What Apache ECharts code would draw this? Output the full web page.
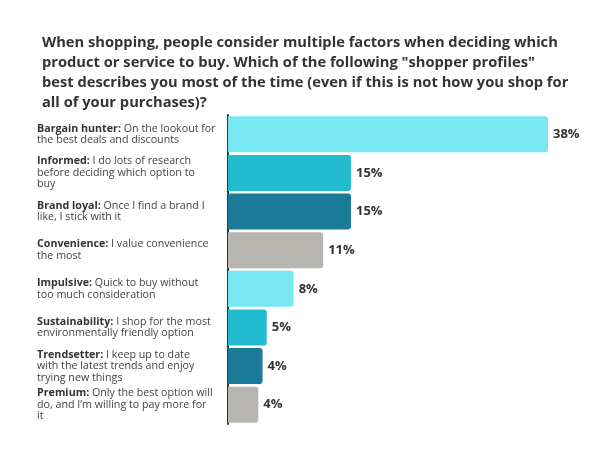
<!DOCTYPE html>
<html>
<head>
<meta charset="utf-8">
<script src="https://cdn.jsdelivr.net/npm/echarts@6/dist/echarts.min.js"></script>
<style>
  html, body { margin: 0; padding: 0; background: #fff; }
  #chart { width: 600px; height: 449px; }
</style>
</head>
<body>
<div id="chart"></div>
<script>
// Shopper profile chart
const titleText = 'When shopping, people consider multiple factors when deciding which\nproduct or service to buy. Which of the following "shopper profiles"\nbest describes you most of the time (even if this is not how you shop for\nall of your purchases)?';

const profileNames = ['Bargain hunter:', 'Informed:', 'Brand loyal:', 'Convenience:',
    'Impulsive:', 'Sustainability:', 'Trendsetter:', 'Premium:'];
const profileDescs = [
    ' On the lookout for\nthe best deals and discounts',
    ' I do lots of research\nbefore deciding which option to\nbuy',
    ' Once I find a brand I\nlike, I stick with it',
    ' I value convenience\nthe most',
    ' Quick to buy without\ntoo much consideration',
    ' I shop for the most\nenvironmentally friendly option',
    ' I keep up to date\nwith the latest trends and enjoy\ntrying new things',
    ' Only the best option will\ndo, and I\u2019m willing to pay more for\nit'
];
const shares = [38, 14.6, 14.6, 11.3, 7.8, 4.6, 4.1, 3.6];
const barColors = ['#77e7f1', '#22bacf', '#1a7a98', '#b8b6b1'];

const FONT = '"Open Sans", sans-serif';

const chart = echarts.init(document.getElementById('chart'), null, { renderer: 'canvas' });

// Bold name + regular description, every line of the description in the same style
const labelFor = (i) => {
    const lines = profileDescs[i].split('\n');
    return lines.map((l, k) => (k === 0 ? `{b|${profileNames[i]}}{r|${l}}` : `{r|${l}}`)).join('\n');
};

const option = {
    backgroundColor: '#fff',
    animation: false,
    title: {
        text: titleText,
        left: 37,
        top: 28,
        textStyle: {
            fontFamily: FONT,
            fontSize: 14.7,
            fontWeight: 'bold',
            lineHeight: 20,
            color: '#333'
        }
    },
    grid: {
        left: 228,
        right: 52,
        top: 115,
        bottom: 25
    },
    xAxis: {
        type: 'value',
        min: 0,
        max: 38,
        show: false
    },
    yAxis: {
        type: 'category',
        inverse: true,
        data: profileNames.map((n, i) => labelFor(i)),
        axisTick: { show: false },
        axisLine: { show: true, lineStyle: { color: '#333', width: 2 } },
        axisLabel: {
            margin: 191,
            align: 'left',
            interval: 0,
            fontFamily: FONT,
            fontSize: 10.7,
            lineHeight: 11.5,
            color: '#444',
            rich: {
                b: { fontFamily: FONT, fontSize: 10.7, fontWeight: 'bold', color: '#333', lineHeight: 11.5 },
                r: { fontFamily: FONT, fontSize: 10.7, color: '#444', lineHeight: 11.5 }
            }
        }
    },
    series: [{
        type: 'bar',
        barCategoryGap: '7%',
        data: shares.map((v, i) => ({
            value: v,
            itemStyle: {
                color: barColors[i % barColors.length],
                borderRadius: [0, 3, 3, 0]
            }
        })),
        label: {
            show: true,
            position: 'right',
            distance: 5,
            fontFamily: FONT,
            fontSize: 13,
            fontWeight: 'bold',
            color: '#333',
            formatter: (p) => Math.round(p.value) + '%'
        }
    }]
};

chart.setOption(option);
</script>
</body>
</html>
